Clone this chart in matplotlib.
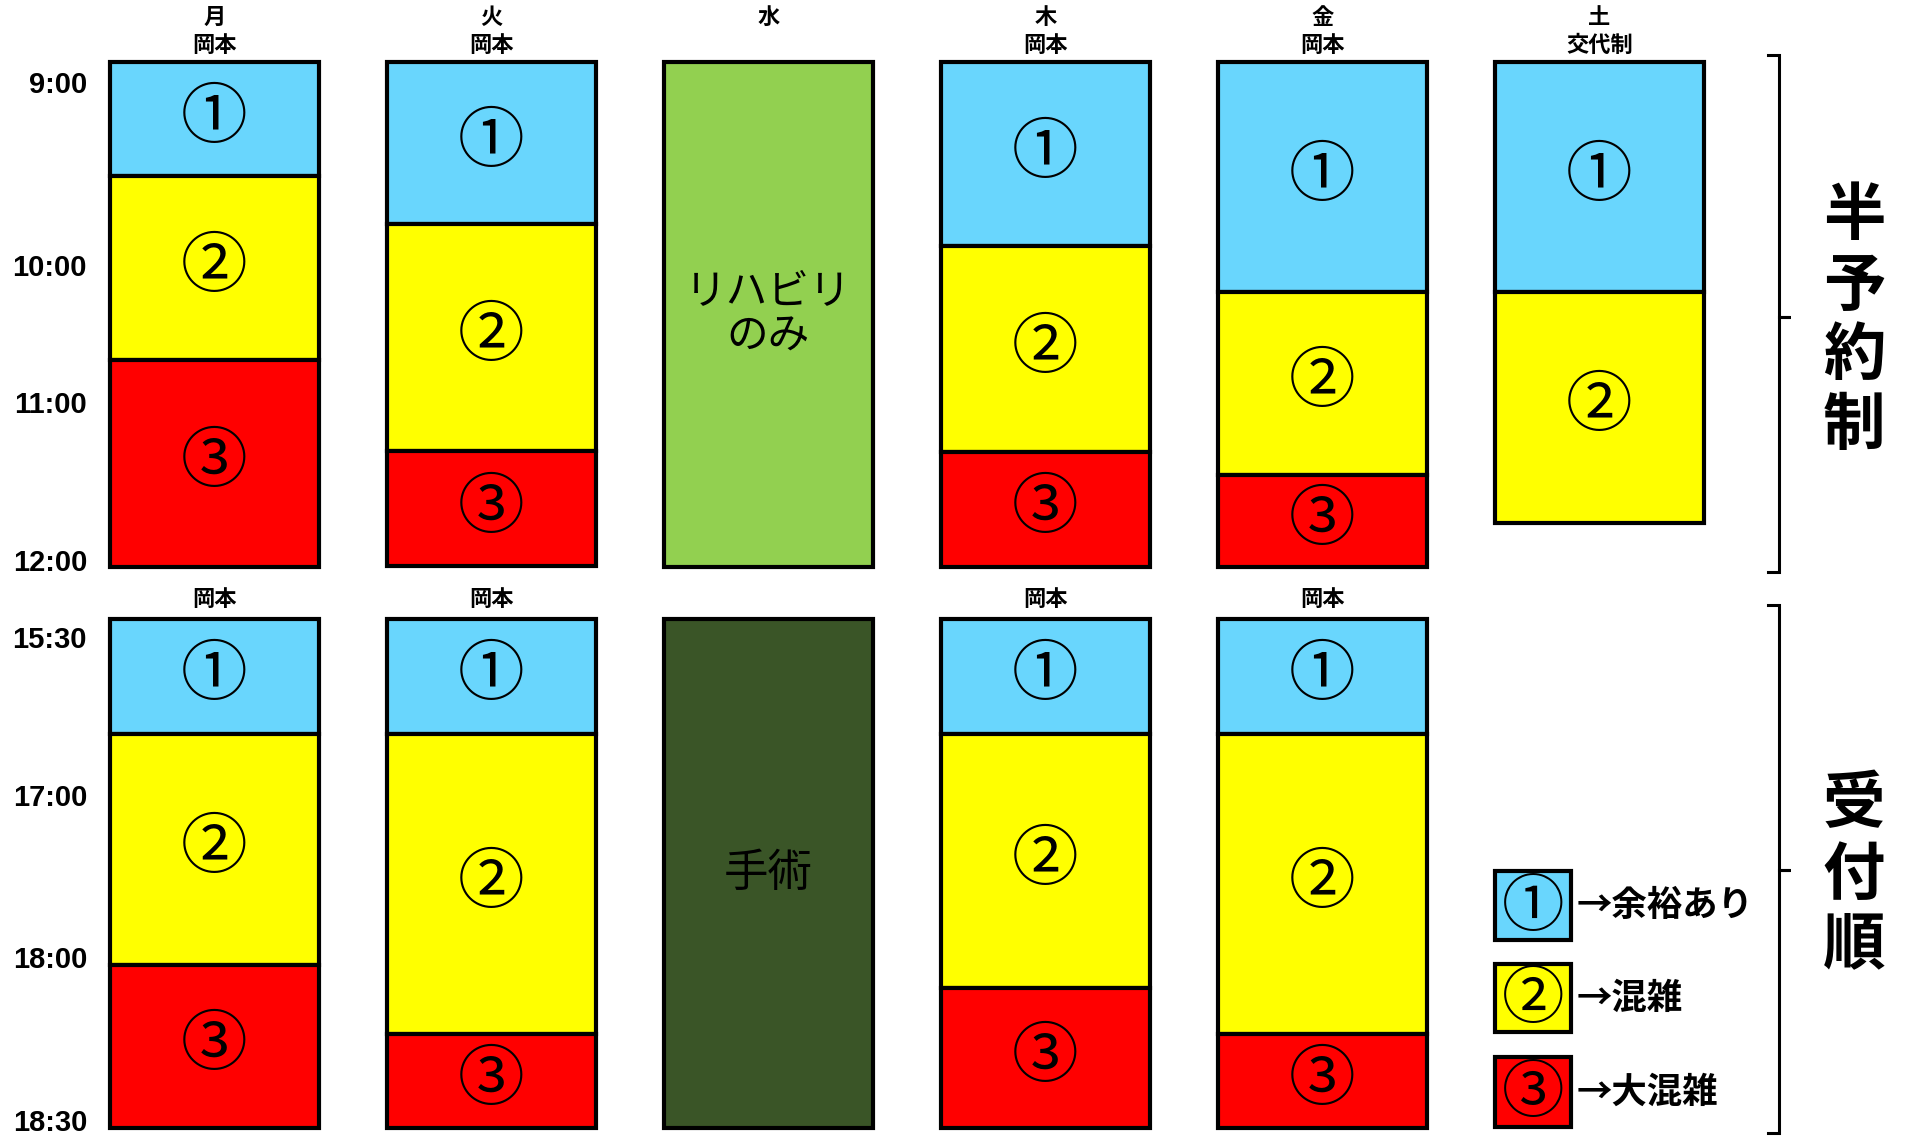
import matplotlib
matplotlib.use("Agg")
import matplotlib.pyplot as plt
from matplotlib.patches import Rectangle
from matplotlib.lines import Line2D
import numpy as np

plt.rcParams['font.family'] = ['Noto Sans CJK JP', 'DejaVu Sans']

# ---------------- data ----------------
days = ['月', '火', '水', '木', '金', '土']
am_doctor = ['岡本', '岡本', '', '岡本', '岡本', '交代制']
pm_doctor = ['岡本', '岡本', '', '岡本', '岡本', '']

# segment heights, in % of each panel's height (top to bottom)
am_free = [22.6, 32.0, 0, 36.4, 45.6, 45.6]
am_busy = [36.4, 45.1, 0, 40.8, 36.2, 45.6]
am_very = [41.0, 22.8, 0, 22.8, 18.2, 0]
am_special = [0, 0, 100, 0, 0, 0]
am_special_label = 'リハビリ\nのみ'

pm_free = [22.5, 22.5, 0, 22.5, 22.5, 0]
pm_busy = [45.5, 59.1, 0, 50.0, 59.1, 0]
pm_very = [32.0, 18.4, 0, 27.5, 18.4, 0]
pm_special = [0, 0, 100, 0, 0, 0]
pm_special_label = '手術'

am_times = ['9:00', '10:00', '11:00', '12:00']
am_time_pos = [4.5, 40.8, 67.9, 99.3]
pm_times = ['15:30', '17:00', '18:00', '18:30']
pm_time_pos = [4.2, 35.2, 66.9, 99.0]

level_marks = ['①', '②', '③']
level_names = ['余裕あり', '混雑', '大混雑']
level_colors = ['#69D6FD', '#FFFF00', '#FF0000']
am_special_color = '#92D050'
pm_special_color = '#3A5527'

section_labels = ['半予約制', '受付順']

# ---------------- layout ----------------
W, H = 1909, 1136
fig = plt.figure(figsize=(W / 100, H / 100), dpi=100)

def px_rect(top, bottom):
    return [0, 1 - bottom / H, 1, (bottom - top) / H]

col_c0, pitch = 214.5, 277.0
xlim = ((0 - col_c0) / pitch, (W - col_c0) / pitch)
bw = 209 / pitch

ax_am = fig.add_axes(px_rect(62, 567))
ax_pm = fig.add_axes(px_rect(619, 1128))
for ax in (ax_am, ax_pm):
    ax.set_xlim(*xlim)
    ax.set_ylim(100, 0)
    ax.axis('off')

LW = 3.0

def draw_panel(ax, free, busy, very, special, special_label, special_color, sfs):
    x = np.arange(len(days))
    bottom = np.zeros(len(days))
    for vals, col, mark in zip((free, busy, very), level_colors, level_marks):
        vals = np.array(vals, dtype=float)
        m = vals > 0
        ax.bar(x[m], vals[m], bottom=bottom[m], width=bw, color=col,
               edgecolor='black', linewidth=LW, align='center', clip_on=False)
        for xi, b, v in zip(x[m], bottom[m], vals[m]):
            ax.text(xi, b + v / 2, mark, ha='center', va='center',
                    fontsize=48, color='black')
        bottom = bottom + vals
    sp = np.array(special, dtype=float)
    m = sp > 0
    ax.bar(x[m], sp[m], bottom=0, width=bw, color=special_color,
           edgecolor='black', linewidth=LW, clip_on=False)
    for xi, v in zip(x[m], sp[m]):
        ax.text(xi, v / 2, special_label, ha='center', va='center',
                fontsize=sfs, linespacing=1.12, color='black')

draw_panel(ax_am, am_free, am_busy, am_very, am_special, am_special_label, am_special_color, 30)
draw_panel(ax_pm, pm_free, pm_busy, pm_very, pm_special, pm_special_label, pm_special_color, 32)

# headers
for i, (d, doc) in enumerate(zip(days, am_doctor)):
    ax_am.text(i, -8.9, d, ha='center', va='center', fontsize=16,
               fontweight='bold', clip_on=False)
    if doc:
        ax_am.text(i, -3.2, doc, ha='center', va='center', fontsize=16,
                   fontweight='bold', clip_on=False)
for i, doc in enumerate(pm_doctor):
    if doc:
        ax_pm.text(i, -3.9, doc, ha='center', va='center', fontsize=16,
                   fontweight='bold', clip_on=False)

# time labels
tx = (87 - col_c0) / pitch
for ax, labels, pos in ((ax_am, am_times, am_time_pos), (ax_pm, pm_times, pm_time_pos)):
    for lab, p in zip(labels, pos):
        ax.text(tx, p, lab, ha='right', va='center', fontsize=21,
                fontweight='bold', family='Liberation Sans', clip_on=False)

# legend
lx0 = (1495 - col_c0) / pitch
lx1 = (1571 - col_c0) / pitch
leg_y = [(49.5, 63.1), (67.8, 81.1), (86.1, 99.8)]
for (y0, y1), col, mark, name in zip(leg_y, level_colors, level_marks, level_names):
    ax_pm.add_patch(Rectangle((lx0, y0), lx1 - lx0, y1 - y0, facecolor=col,
                              edgecolor='black', linewidth=LW, clip_on=False))
    ax_pm.text((lx0 + lx1) / 2, (y0 + y1) / 2 + 0.4, mark, ha='center', va='center',
               fontsize=45, color='black')
    ax_pm.text((1577 - col_c0) / pitch, (y0 + y1) / 2, '→' + name, ha='left',
               va='center', fontsize=25.5, fontweight='bold')

# braces
def brace(top, bottom, mid, x=1779, hook=11):
    pts_x = [x - hook, x, x, x + hook, x, x, x - hook]
    pts_y = [top, top, mid, mid, mid, bottom, bottom]
    fx = [p / W for p in pts_x]
    fy = [1 - p / H for p in pts_y]
    fig.add_artist(Line2D(fx, fy, color='black', linewidth=2.2,
                          solid_joinstyle='miter', transform=fig.transFigure))

brace(55, 572, 317)
brace(605, 1133, 870)

def vtext(s, center_y, x=1854, step=70):
    n = len(s)
    for k, ch in enumerate(s):
        y = center_y + (k - (n - 1) / 2) * step
        fig.text(x / W, 1 - y / H, ch, ha='center', va='center',
                 fontsize=45, fontweight='bold')

vtext(section_labels[0], 321)
vtext(section_labels[1], 875)

fig.savefig('out.png', dpi=100)
